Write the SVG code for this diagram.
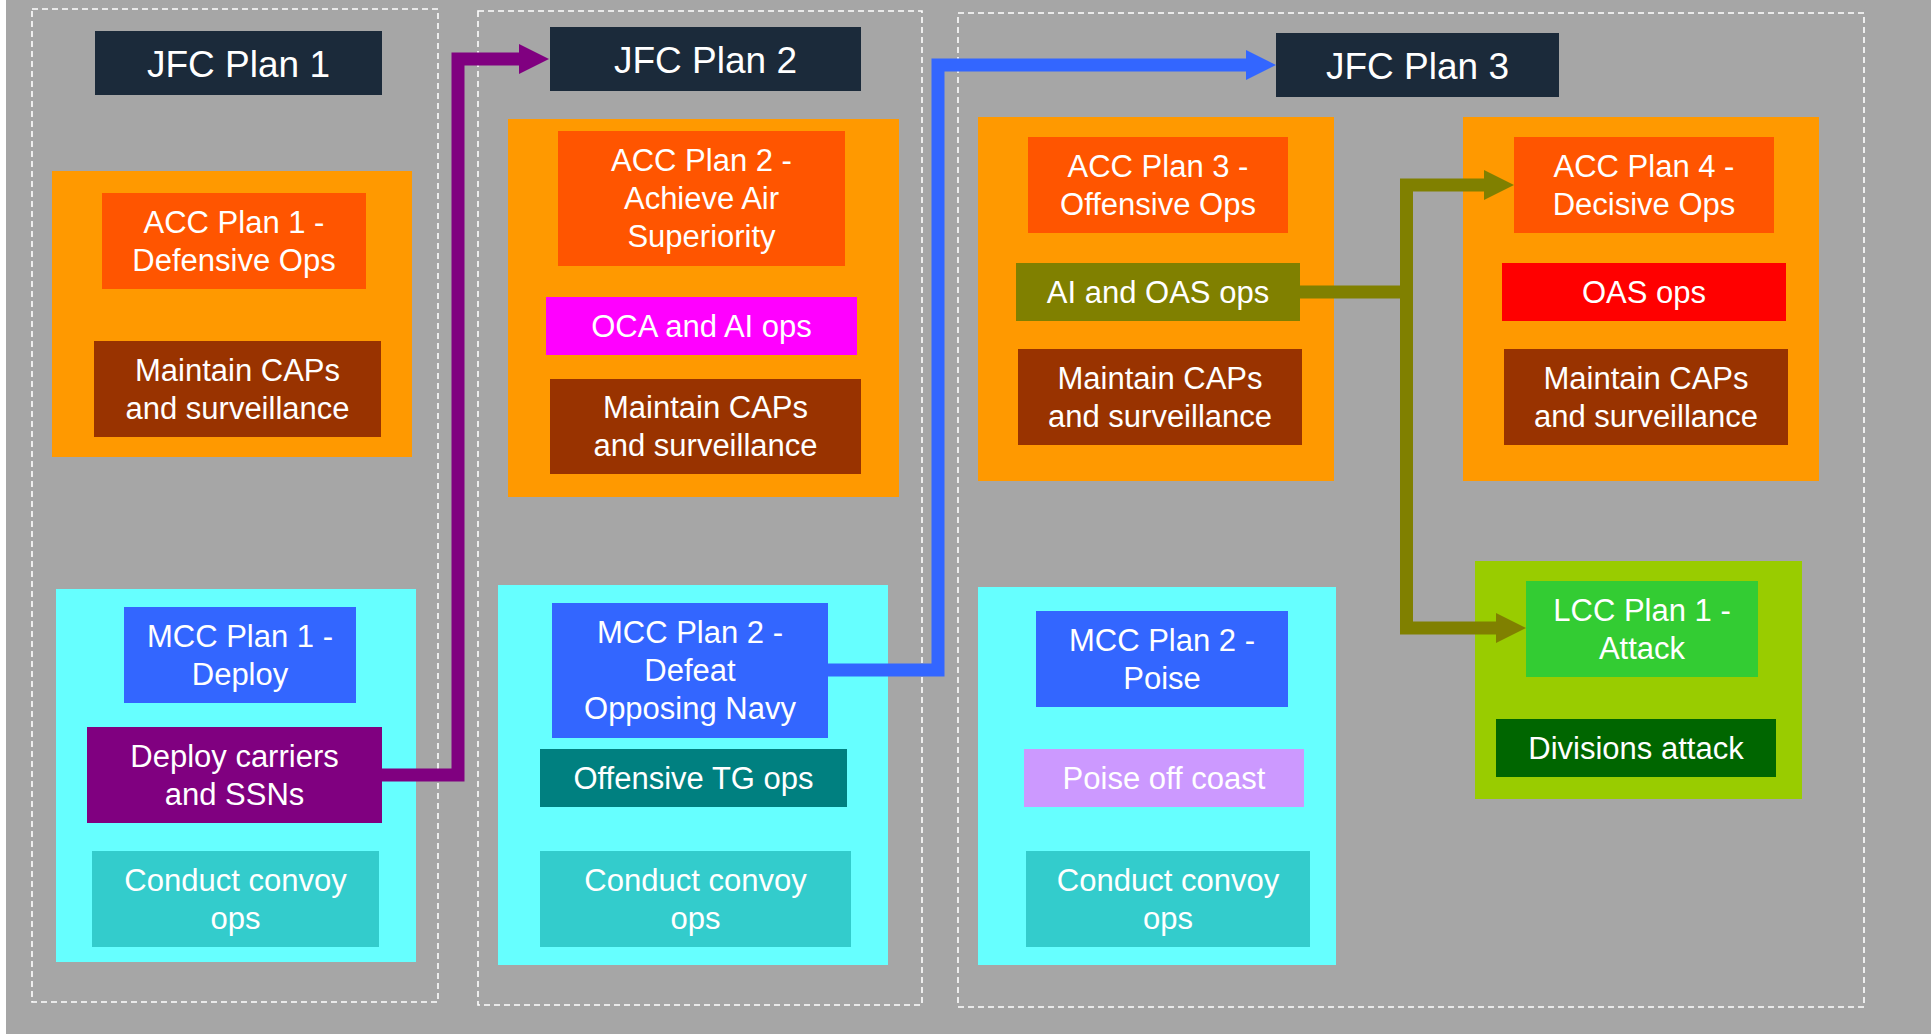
<svg xmlns="http://www.w3.org/2000/svg" width="1931" height="1034" viewBox="0 0 1931 1034">
<style>
text{font-family:"Liberation Sans",Arial,sans-serif;fill:#ffffff;text-anchor:middle;font-size:31px}
.jfc text{font-size:37px}
.phase{fill:none;stroke:#ffffff;stroke-width:1.6;stroke-dasharray:6 4}
.jfcbox{fill:#1b2a3a}
.acc{fill:#ff9900}
.mcc{fill:#66ffff}
.lcc{fill:#99cc00}
.accplan{fill:#ff5500}
.caps{fill:#993300}
.mccplan{fill:#3366ff}
.convoy{fill:#33cccc}
.conn{fill:none;stroke-width:13;stroke-linejoin:miter}
</style>
<defs>
<marker id="arrP" markerUnits="userSpaceOnUse" markerWidth="30" markerHeight="30" refX="0" refY="15" orient="auto"><path d="M0,0 L30,15 L0,30 Z" fill="#800080"/></marker>
<marker id="arrB" markerUnits="userSpaceOnUse" markerWidth="30" markerHeight="30" refX="0" refY="15" orient="auto"><path d="M0,0 L30,15 L0,30 Z" fill="#3366ff"/></marker>
<marker id="arrO" markerUnits="userSpaceOnUse" markerWidth="30" markerHeight="30" refX="0" refY="15" orient="auto"><path d="M0,0 L30,15 L0,30 Z" fill="#808000"/></marker>
</defs>
<rect x="0" y="0" width="1931" height="1034" fill="#ffffff"/>
<rect x="6" y="0" width="1925" height="1034" fill="#a6a6a6"/>

<g id="phase1"><rect class="phase" x="32" y="9" width="406" height="993"/></g>
<g id="phase2"><rect class="phase" x="478" y="11" width="444" height="994"/></g>
<g id="phase3"><rect class="phase" x="958" y="13" width="906" height="994"/></g>

<g id="acc1-area"><rect class="acc" x="52" y="171" width="360" height="286"/></g>
<g id="acc2-area"><rect class="acc" x="508" y="119" width="391" height="378"/></g>
<g id="acc3-area"><rect class="acc" x="978" y="117" width="356" height="364"/></g>
<g id="acc4-area"><rect class="acc" x="1463" y="117" width="356" height="364"/></g>
<g id="mcc1-area"><rect class="mcc" x="56" y="589" width="360" height="373"/></g>
<g id="mcc2-area"><rect class="mcc" x="498" y="585" width="390" height="380"/></g>
<g id="mcc3-area"><rect class="mcc" x="978" y="587" width="358" height="378"/></g>
<g id="lcc1-area"><rect class="lcc" x="1475" y="561" width="327" height="238"/></g>

<g id="connectors">
<path class="conn" stroke="#800080" d="M382,775 H458 V59 H519" marker-end="url(#arrP)"/>
<path class="conn" stroke="#3366ff" d="M828,670 H938 V65 H1246" marker-end="url(#arrB)"/>
<path class="conn" stroke="#808000" d="M1300,292 H1413"/>
<path class="conn" stroke="#808000" d="M1406.5,628 V185 H1484" marker-end="url(#arrO)"/>
<path class="conn" stroke="#808000" d="M1400,628 H1496" marker-end="url(#arrO)"/>
</g>

<g id="jfc1" class="jfc"><rect class="jfcbox" x="95" y="31" width="287" height="64"/><text x="238.5" y="76.5">JFC Plan 1</text></g>
<g id="jfc2" class="jfc"><rect class="jfcbox" x="550" y="27" width="311" height="64"/><text x="705.5" y="72.5">JFC Plan 2</text></g>
<g id="jfc3" class="jfc"><rect class="jfcbox" x="1276" y="33" width="283" height="64"/><text x="1417.5" y="78.5">JFC Plan 3</text></g>

<g id="acc1"><rect class="accplan" x="102" y="193" width="264" height="96"/><text x="234" y="232.5">ACC Plan 1 -</text><text x="234" y="270.5">Defensive Ops</text></g>
<g id="caps1"><rect class="caps" x="94" y="341" width="287" height="96"/><text x="237.5" y="380.5">Maintain CAPs</text><text x="237.5" y="418.5">and surveillance</text></g>

<g id="acc2"><rect class="accplan" x="558" y="131" width="287" height="135"/><text x="701.5" y="171">ACC Plan 2 -</text><text x="701.5" y="209">Achieve Air</text><text x="701.5" y="247">Superiority</text></g>
<g id="oca"><rect fill="#ff00ff" x="546" y="297" width="311" height="58"/><text x="701.5" y="336.5">OCA and AI ops</text></g>
<g id="caps2"><rect class="caps" x="550" y="379" width="311" height="95"/><text x="705.5" y="418">Maintain CAPs</text><text x="705.5" y="456">and surveillance</text></g>

<g id="acc3"><rect class="accplan" x="1028" y="137" width="260" height="96"/><text x="1158" y="176.5">ACC Plan 3 -</text><text x="1158" y="214.5">Offensive Ops</text></g>
<g id="aioas"><rect fill="#808000" x="1016" y="263" width="284" height="58"/><text x="1158" y="302.5">AI and OAS ops</text></g>
<g id="caps3"><rect class="caps" x="1018" y="349" width="284" height="96"/><text x="1160" y="388.5">Maintain CAPs</text><text x="1160" y="426.5">and surveillance</text></g>

<g id="acc4"><rect class="accplan" x="1514" y="137" width="260" height="96"/><text x="1644" y="176.5">ACC Plan 4 -</text><text x="1644" y="214.5">Decisive Ops</text></g>
<g id="oas"><rect fill="#ff0000" x="1502" y="263" width="284" height="58"/><text x="1644" y="302.5">OAS ops</text></g>
<g id="caps4"><rect class="caps" x="1504" y="349" width="284" height="96"/><text x="1646" y="388.5">Maintain CAPs</text><text x="1646" y="426.5">and surveillance</text></g>

<g id="mcc1"><rect class="mccplan" x="124" y="607" width="232" height="96"/><text x="240" y="646.5">MCC Plan 1 -</text><text x="240" y="684.5">Deploy</text></g>
<g id="deploy"><rect fill="#800080" x="87" y="727" width="295" height="96"/><text x="234.5" y="766.5">Deploy carriers</text><text x="234.5" y="804.5">and SSNs</text></g>
<g id="convoy1"><rect class="convoy" x="92" y="851" width="287" height="96"/><text x="235.5" y="890.5">Conduct convoy</text><text x="235.5" y="928.5">ops</text></g>

<g id="mcc2"><rect class="mccplan" x="552" y="603" width="276" height="135"/><text x="690" y="643">MCC Plan 2 -</text><text x="690" y="681">Defeat</text><text x="690" y="719">Opposing Navy</text></g>
<g id="offtg"><rect fill="#008080" x="540" y="749" width="307" height="58"/><text x="693.5" y="788.5">Offensive TG ops</text></g>
<g id="convoy2"><rect class="convoy" x="540" y="851" width="311" height="96"/><text x="695.5" y="890.5">Conduct convoy</text><text x="695.5" y="928.5">ops</text></g>

<g id="mcc3"><rect class="mccplan" x="1036" y="611" width="252" height="96"/><text x="1162" y="650.5">MCC Plan 2 -</text><text x="1162" y="688.5">Poise</text></g>
<g id="poise"><rect fill="#cc99ff" x="1024" y="749" width="280" height="58"/><text x="1164" y="788.5">Poise off coast</text></g>
<g id="convoy3"><rect class="convoy" x="1026" y="851" width="284" height="96"/><text x="1168" y="890.5">Conduct convoy</text><text x="1168" y="928.5">ops</text></g>

<g id="lcc1"><rect fill="#33cc33" x="1526" y="581" width="232" height="96"/><text x="1642" y="620.5">LCC Plan 1 -</text><text x="1642" y="658.5">Attack</text></g>
<g id="divs"><rect fill="#006600" x="1496" y="719" width="280" height="58"/><text x="1636" y="758.5">Divisions attack</text></g>
</svg>
